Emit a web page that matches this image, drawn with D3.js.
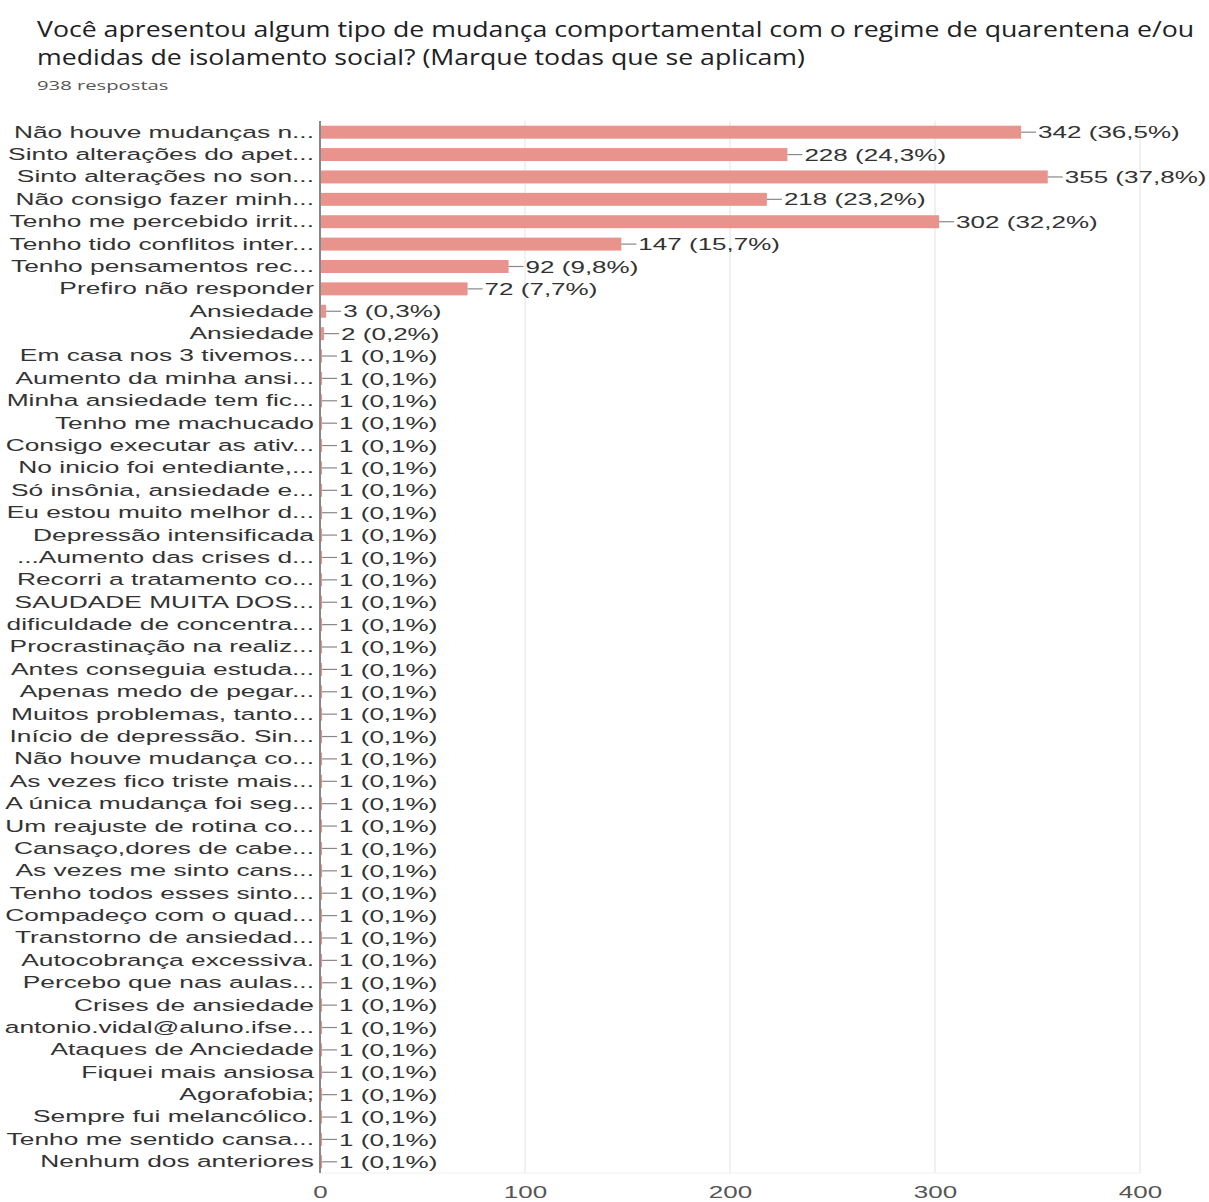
<!DOCTYPE html>
<html>
<head>
<meta charset="utf-8">
<script src="https://cdn.jsdelivr.net/npm/d3@7"></script>
<style>
  body { margin: 0; background: #fff; }
  svg { display: block; }
</style>
</head>
<body>
<script>
const width = 1209, height = 1202;
const margin = ({top: 121, right: 69, bottom: 29, left: 320});
const stretch = 1.53;   // the source picture is widened, text included

const titleLines = [
  "Você apresentou algum tipo de mudança comportamental com o regime de quarentena e/ou",
  "medidas de isolamento social? (Marque todas que se aplicam)"
];
const subtitle = "938 respostas";

const categories = [
  "Não houve mudanças n...", "Sinto alterações do apet...", "Sinto alterações no son...",
  "Não consigo fazer minh...", "Tenho me percebido irrit...", "Tenho tido conflitos inter...",
  "Tenho pensamentos rec...", "Prefiro não responder", "Ansiedade", "Ansiedade ",
  "Em casa nos 3 tivemos...", "Aumento da minha ansi...", "Minha ansiedade tem fic...",
  "Tenho me machucado", "Consigo executar as ativ...", "No inicio foi entediante,...",
  "Só insônia, ansiedade e...", "Eu estou muito melhor d...", "Depressão intensificada",
  "...Aumento das crises d...", "Recorri a tratamento co...", "SAUDADE MUITA DOS...",
  "dificuldade de concentra...", "Procrastinação na realiz...", "Antes conseguia estuda...",
  "Apenas medo de pegar...", "Muitos problemas, tanto...", "Início de depressão. Sin...",
  "Não houve mudança co...", "As vezes fico triste mais...", "A única mudança foi seg...",
  "Um reajuste de rotina co...", "Cansaço,dores de cabe...", "As vezes me sinto cans...",
  "Tenho todos esses sinto...", "Compadeço com o quad...", "Transtorno de ansiedad...",
  "Autocobrança excessiva.", "Percebo que nas aulas...", "Crises de ansiedade",
  "antonio.vidal@aluno.ifse...", "Ataques de Anciedade", "Fiquei mais ansiosa",
  "Agorafobia;", "Sempre fui melancólico.", "Tenho me sentido cansa...", "Nenhum dos anteriores"
];

const counts = [342, 228, 355, 218, 302, 147, 92, 72, 3, 2,
  1, 1, 1, 1, 1, 1, 1, 1, 1, 1, 1, 1, 1, 1, 1, 1, 1, 1, 1, 1, 1, 1, 1, 1, 1, 1, 1,
  1, 1, 1, 1, 1, 1, 1, 1, 1, 1];

const percents = ["36,5", "24,3", "37,8", "23,2", "32,2", "15,7", "9,8", "7,7", "0,3", "0,2",
  "0,1", "0,1", "0,1", "0,1", "0,1", "0,1", "0,1", "0,1", "0,1", "0,1", "0,1", "0,1", "0,1",
  "0,1", "0,1", "0,1", "0,1", "0,1", "0,1", "0,1", "0,1", "0,1", "0,1", "0,1", "0,1", "0,1",
  "0,1", "0,1", "0,1", "0,1", "0,1", "0,1", "0,1", "0,1", "0,1", "0,1", "0,1"];

const xTicks = [0, 100, 200, 300, 400];

const data = categories.map((c, i) => ({cat: c, value: counts[i], pct: percents[i]}));

const x = d3.scaleLinear([0, 400], [margin.left, width - margin.right]);
const y = d3.scaleBand()
    .domain(categories)
    .range([margin.top, height - margin.bottom])
    .paddingInner(0.42)
    .paddingOuter(0.21);

const svg = d3.select("body").append("svg")
    .attr("width", width)
    .attr("height", height);

// title
svg.append("g")
    .style("font", "400 21px 'Open Sans', sans-serif")
    .attr("fill", "#202124")
  .selectAll("text")
  .data(titleLines)
  .join("text")
    .attr("transform", (d, i) => `translate(37,${37 + i * 28}) scale(1.27,1)`)
    .text(d => d);

svg.append("text")
    .attr("transform", "translate(37,90) scale(1.5,1)")
    .style("font", "13.5px 'Open Sans', sans-serif")
    .attr("fill", "#555")
    .text(subtitle);

// grid
svg.append("g")
  .selectAll("line")
  .data(xTicks.slice(1))
  .join("line")
    .attr("x1", d => x(d)).attr("x2", d => x(d))
    .attr("y1", margin.top).attr("y2", height - margin.bottom)
    .attr("stroke", "#ececec")
    .attr("stroke-width", 1.5);

svg.append("line")
    .attr("x1", margin.left).attr("x2", x(400))
    .attr("y1", height - margin.bottom).attr("y2", height - margin.bottom)
    .attr("stroke", "#f0f0f0");

// bars
svg.append("g")
    .attr("fill", "#e8948c")
  .selectAll("rect")
  .data(data)
  .join("rect")
    .attr("x", x(0))
    .attr("y", d => y(d.cat))
    .attr("height", y.bandwidth())
    .attr("width", d => x(d.value) - x(0));

// connectors + value labels
const val = svg.append("g")
    .style("font", "17px 'Liberation Sans', Arial, sans-serif")
  .selectAll("g")
  .data(data)
  .join("g")
    .attr("transform", d => `translate(${x(d.value)},${y(d.cat) + y.bandwidth() / 2})`);

val.append("line")
    .attr("x1", 0).attr("x2", 15)
    .attr("stroke", "#888")
    .attr("stroke-width", 1.2);

val.append("text")
    .attr("transform", `translate(17,0) scale(${stretch},1)`)
    .attr("dy", "0.36em")
    .attr("fill", "#333")
    .text(d => `${d.value} (${d.pct}%)`);

// y axis
const yAxis = d3.axisLeft(y).tickSize(0).tickPadding(0);
svg.append("g")
    .attr("transform", `translate(${margin.left},0)`)
    .call(yAxis)
    .call(g => g.select(".domain").attr("stroke", "#888").attr("stroke-width", 2)
        .attr("d", `M0,${margin.top}V${height - margin.bottom}`))
    .call(g => g.selectAll("text")
        .attr("x", 0)
        .attr("transform", `translate(-6,0) scale(1.55,1)`)
        .style("font", "17px 'Liberation Sans', Arial, sans-serif")
        .attr("fill", "#333"));

// x axis labels
const xAxis = d3.axisBottom(x).tickValues(xTicks).tickSize(0).tickPadding(11);
svg.append("g")
    .attr("transform", `translate(0,${height - margin.bottom + 2})`)
    .call(xAxis)
    .call(g => g.select(".domain").remove())
    .call(g => g.selectAll("text")
        .attr("transform", `scale(${stretch},1)`)
        .attr("x", 0)
        .style("font", "17px 'Liberation Sans', Arial, sans-serif")
        .attr("fill", "#555"));
</script>
</body>
</html>
